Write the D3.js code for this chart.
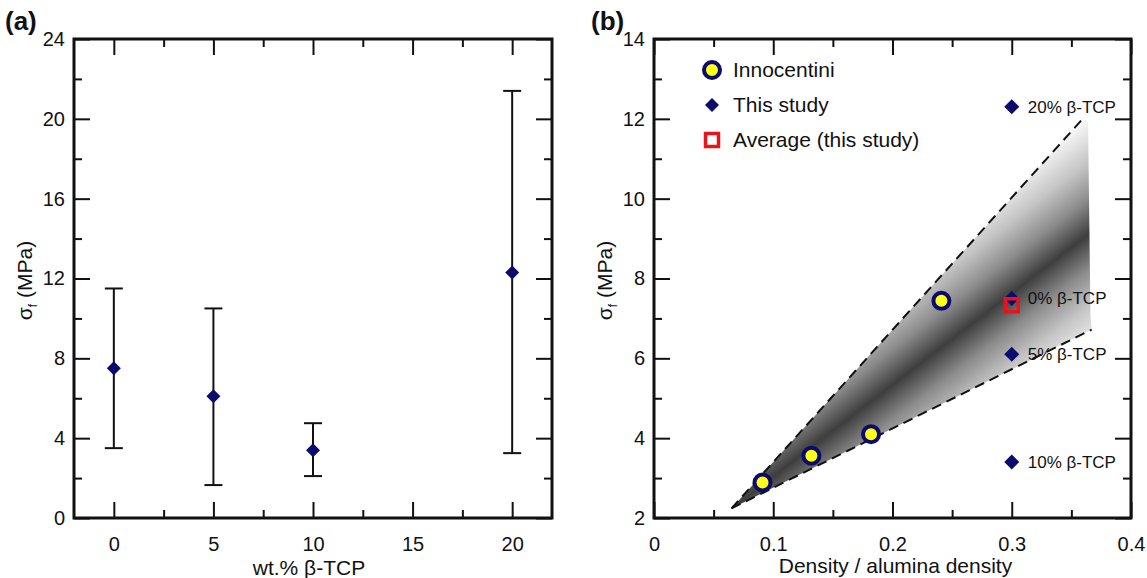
<!DOCTYPE html>
<html>
<head>
<meta charset="utf-8">
<script src="https://cdn.jsdelivr.net/npm/d3@7"></script>
<style>
  body { margin: 0; background: #fff; }
  text { font-family: "Liberation Sans", Arial, sans-serif; fill: #111; }
</style>
</head>
<body>
<div id="chart"></div>
<script>
// panel (a): strength vs wt.% beta-TCP
var wtPct = [0, 5, 10, 20];
var meanStrength = [7.5, 6.1, 3.4, 12.3];
var errLow = [3.5, 1.65, 2.1, 3.25];
var errHigh = [11.5, 10.5, 4.75, 21.4];

// panel (b): strength vs relative density
var innoDensity = [0.091, 0.132, 0.182, 0.241];
var innoStrength = [2.89, 3.56, 4.10, 7.44];
var studyDensity = 0.3;
var studyLabels = ["0% β-TCP", "5% β-TCP", "10% β-TCP", "20% β-TCP"];
var avgStrength = 7.33;
var upperBound = [[0.065, 2.24], [0.361, 12.05]];
var lowerBound = [[0.065, 2.24], [0.367, 6.72]];
var shadeCentre = [[0.065, 2.24], [0.364, 9.1]];
var shadeOutline = [[0.065, 2.24], [0.361, 12.05], [0.364, 11.9], [0.366, 7.1], [0.367, 6.72]];

// ticks
var aXTicks = [0, 5, 10, 15, 20], aXMinor = [2.5, 7.5, 12.5, 17.5];
var aYTicks = [0, 4, 8, 12, 16, 20, 24], aYMinor = [2, 6, 10, 14, 18, 22];
var bXTicks = [0, 0.1, 0.2, 0.3, 0.4], bXMinor = [0.05, 0.15, 0.25, 0.35];
var bYTicks = [2, 4, 6, 8, 10, 12, 14], bYMinor = [3, 5, 7, 9, 11, 13];

var navy = "#0b0b6e";
var W = 1147, H = 578;

var svg = d3.select("#chart").append("svg")
  .attr("width", W)
  .attr("height", H);

var plotW = 478, plotH = 479;

function diamond(r) {
  return "M0," + (-r) + "L" + r + ",0L0," + r + "L" + (-r) + ",0Z";
}

// frame + inward ticks on all four sides
function drawAxes(g, x, y, xt, xm, yt, ym, w, h) {
  function major(axis, vals, lab) {
    return axis.tickValues(vals).tickSize(-16).tickFormat(lab ? function(d) { return d; } : "");
  }
  function minor(axis, vals) {
    return axis.tickValues(vals).tickSize(-8).tickFormat("");
  }
  var bx = g.append("g").attr("transform", "translate(0," + h + ")");
  bx.append("g").call(major(d3.axisBottom(x), xt, true).tickPadding(19));
  bx.append("g").call(minor(d3.axisBottom(x), xm));
  g.append("g").call(major(d3.axisTop(x), xt, false));
  g.append("g").call(minor(d3.axisTop(x), xm));
  g.append("g").call(major(d3.axisLeft(y), yt, true).tickPadding(9));
  g.append("g").call(minor(d3.axisLeft(y), ym));
  var ry = g.append("g").attr("transform", "translate(" + w + ",0)");
  ry.append("g").call(major(d3.axisRight(y), yt, false));
  ry.append("g").call(minor(d3.axisRight(y), ym));

  g.selectAll(".domain").remove();
  g.selectAll(".tick line").attr("stroke", "#111").attr("stroke-width", 2);
  g.selectAll(".tick text").style("font-size", "20px").attr("fill", "#111");

  g.append("rect")
    .attr("width", w).attr("height", h)
    .attr("fill", "none")
    .attr("stroke", "#111")
    .attr("stroke-width", 3);
}

function yLabel(g, xPos, h) {
  var t = g.append("text")
    .attr("transform", "translate(" + xPos + "," + (h / 2 + 2) + ") rotate(-90)")
    .attr("text-anchor", "middle")
    .style("font-size", "21px");
  t.append("tspan").text("σ");
  t.append("tspan").attr("dy", 5).style("font-size", "12px").text("f");
  t.append("tspan").attr("dy", -5).text(" (MPa)");
}

// ---------------- panel (a) ----------------
var ga = svg.append("g").attr("transform", "translate(74,39)");
var xa = d3.scaleLinear().domain([-2, 22]).range([0, plotW]);
var ya = d3.scaleLinear().domain([0, 24]).range([plotH, 0]);

var dataA = wtPct.map(function(d, i) {
  return {x: d, m: meanStrength[i], lo: errLow[i], hi: errHigh[i]};
});

var bars = ga.selectAll(".err").data(dataA).enter().append("g").attr("class", "err");
bars.append("line")
  .attr("x1", function(d) { return xa(d.x); }).attr("x2", function(d) { return xa(d.x); })
  .attr("y1", function(d) { return ya(d.lo); }).attr("y2", function(d) { return ya(d.hi); })
  .attr("stroke", "#111").attr("stroke-width", 2);
[ "lo", "hi" ].forEach(function(k) {
  bars.append("line")
    .attr("x1", function(d) { return xa(d.x) - 9; }).attr("x2", function(d) { return xa(d.x) + 9; })
    .attr("y1", function(d) { return ya(d[k]); }).attr("y2", function(d) { return ya(d[k]); })
    .attr("stroke", "#111").attr("stroke-width", 2);
});
ga.selectAll(".pt").data(dataA).enter().append("path")
  .attr("d", diamond(7))
  .attr("transform", function(d) { return "translate(" + xa(d.x) + "," + ya(d.m) + ")"; })
  .attr("fill", navy);

drawAxes(ga, xa, ya, aXTicks, aXMinor, aYTicks, aYMinor, plotW, plotH);

ga.append("text")
  .attr("x", plotW / 2 - 4).attr("y", 536)
  .attr("text-anchor", "middle")
  .style("font-size", "21px")
  .text("wt.% β-TCP");
yLabel(ga, -42, plotH);

svg.append("text").attr("x", 5).attr("y", 30)
  .style("font-size", "26px").style("font-weight", "bold").text("(a)");

// ---------------- panel (b) ----------------
var gb = svg.append("g").attr("transform", "translate(654,39)");
var xb = d3.scaleLinear().domain([0, 0.4]).range([0, 477]);
var yb = d3.scaleLinear().domain([2, 14]).range([plotH, 0]);

// shaded cone: grey gradient across the centre line
var c0 = [xb(shadeCentre[0][0]), yb(shadeCentre[0][1])];
var c1 = [xb(shadeCentre[1][0]), yb(shadeCentre[1][1])];
var len = Math.hypot(c1[0] - c0[0], c1[1] - c0[1]);
var nx = -(c1[1] - c0[1]) / len, ny = (c1[0] - c0[0]) / len;
var half = 95;

var grad = svg.append("defs").append("linearGradient")
  .attr("id", "cone-grad")
  .attr("gradientUnits", "userSpaceOnUse")
  .attr("x1", c0[0] - nx * half).attr("y1", c0[1] - ny * half)
  .attr("x2", c0[0] + nx * half).attr("y2", c0[1] + ny * half);
var stops = [[0, "#fbfbfb"], [0.2, "#c4c4c4"], [0.35, "#8c8c8c"], [0.5, "#3e3e3e"],
             [0.65, "#8c8c8c"], [0.8, "#c4c4c4"], [1, "#fbfbfb"]];
grad.selectAll("stop").data(stops).enter().append("stop")
  .attr("offset", function(d) { return d[0]; })
  .attr("stop-color", function(d) { return d[1]; });

var lineB = d3.line().x(function(d) { return xb(d[0]); }).y(function(d) { return yb(d[1]); });

gb.append("path")
  .attr("d", lineB(shadeOutline) + "Z")
  .attr("fill", "url(#cone-grad)");

[upperBound, lowerBound].forEach(function(b) {
  gb.append("path")
    .attr("d", lineB(b))
    .attr("fill", "none")
    .attr("stroke", "#111")
    .attr("stroke-width", 2)
    .attr("stroke-dasharray", "10,6");
});

gb.selectAll(".inno").data(innoDensity).enter().append("circle")
  .attr("cx", function(d) { return xb(d); })
  .attr("cy", function(d, i) { return yb(innoStrength[i]); })
  .attr("r", 8)
  .attr("fill", "#ffff1a")
  .attr("stroke", navy)
  .attr("stroke-width", 4);

var dataB = wtPct.map(function(d, i) { return {m: meanStrength[i], label: studyLabels[i]}; });
gb.selectAll(".study").data(dataB).enter().append("path")
  .attr("d", diamond(7.5))
  .attr("transform", function(d) { return "translate(" + xb(studyDensity) + "," + yb(d.m) + ")"; })
  .attr("fill", navy);
gb.selectAll(".slab").data(dataB).enter().append("text")
  .attr("x", xb(studyDensity) + 16)
  .attr("y", function(d) { return yb(d.m) + 6; })
  .style("font-size", "17px")
  .text(function(d) { return d.label; });

gb.append("rect")
  .attr("x", xb(studyDensity) - 6.5).attr("y", yb(avgStrength) - 6.5)
  .attr("width", 13).attr("height", 13)
  .attr("fill", "none")
  .attr("stroke", "#e8141c")
  .attr("stroke-width", 3.5);

// legend
var leg = gb.append("g").attr("transform", "translate(58,31)");
leg.append("circle").attr("r", 8).attr("fill", "#ffff1a").attr("stroke", navy).attr("stroke-width", 4);
leg.append("path").attr("d", diamond(7)).attr("transform", "translate(0,35)").attr("fill", navy);
leg.append("rect").attr("x", -6.5).attr("y", 63.5).attr("width", 13).attr("height", 13)
  .attr("fill", "none").attr("stroke", "#e8141c").attr("stroke-width", 3.5);
["Innocentini", "This study", "Average (this study)"].forEach(function(t, i) {
  leg.append("text").attr("x", 21).attr("y", 7 + i * 35).style("font-size", "21px").text(t);
});

drawAxes(gb, xb, yb, bXTicks, bXMinor, bYTicks, bYMinor, 477, plotH);

gb.append("text")
  .attr("x", 477 / 2 + 3).attr("y", 534)
  .attr("text-anchor", "middle")
  .style("font-size", "21px")
  .text("Density / alumina density");
yLabel(gb, -42, plotH);

svg.append("text").attr("x", 591).attr("y", 30)
  .style("font-size", "26px").style("font-weight", "bold").text("(b)");
</script>
</body>
</html>
